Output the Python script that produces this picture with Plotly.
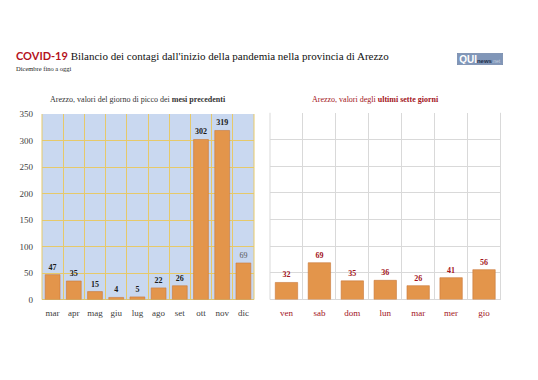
import plotly.graph_objects as go

months = ["mar", "apr", "mag", "giu", "lug", "ago", "set", "ott", "nov", "dic"]
month_peaks = [47, 35, 15, 4, 5, 22, 26, 302, 319, 69]
days = ["ven", "sab", "dom", "lun", "mar", "mer", "gio"]
day_values = [32, 69, 35, 36, 26, 41, 56]
y_ticks = [0, 50, 100, 150, 200, 250, 300, 350]

SERIF = "Liberation Serif"
RED = "#a3141b"
BAR = "#e3954b"
BAR_LINE = "#c9793a"

W, H = 538, 380
def px_x(x): return x / W
def px_y(y): return 1 - y / H

left_text = [f"<b>{v}</b>" for v in month_peaks[:-1]] + [str(month_peaks[-1])]
left_colors = ["#1a1a1a"] * (len(month_peaks) - 1) + ["#555555"]

fig = go.Figure()
fig.add_trace(go.Bar(
    x=months, y=month_peaks, xaxis="x", yaxis="y",
    marker=dict(color=BAR, line=dict(color=BAR_LINE, width=0.6)),
    text=left_text, textposition="outside", cliponaxis=False,
    textfont=dict(family=SERIF, size=8, color=left_colors),
    width=0.7, hoverinfo="skip", showlegend=False,
))
fig.add_trace(go.Bar(
    x=days, y=day_values, xaxis="x2", yaxis="y2",
    marker=dict(color=BAR, line=dict(color=BAR_LINE, width=0.6)),
    text=[f"<b>{v}</b>" for v in day_values], textposition="outside", cliponaxis=False,
    textfont=dict(family=SERIF, size=8, color=RED),
    width=0.68, hoverinfo="skip", showlegend=False,
))

fig.update_layout(
    width=W, height=H,
    margin=dict(l=0, r=0, t=0, b=0),
    paper_bgcolor="white",
    plot_bgcolor="white",
    bargap=0.3,
    xaxis=dict(
        domain=[px_x(42), px_x(254)], anchor="y",
        type="category", tickson="boundaries", tickangle=0,
        showgrid=True, gridcolor="#e6c96a", gridwidth=1,
        ticks="", showline=False, zeroline=False, ticklabelstandoff=6,
        tickfont=dict(family=SERIF, size=9, color="#404040"),
    ),
    yaxis=dict(
        domain=[px_y(302.5), px_y(112)], anchor="x",
        range=[0, 350], tickvals=y_ticks,
        showgrid=True, gridcolor="#e6c96a", gridwidth=1,
        zeroline=True, zerolinecolor="#d9c27a", zerolinewidth=1,
        ticks="", showline=False, ticklabelstandoff=8,
        tickfont=dict(family=SERIF, size=9, color="#404040"),
    ),
    xaxis2=dict(
        domain=[px_x(270), px_x(500.5)], anchor="y2",
        type="category", tickson="boundaries", tickangle=0,
        showgrid=True, gridcolor="#d9d9d9", gridwidth=1,
        ticks="", showline=False, zeroline=False, ticklabelstandoff=6,
        tickfont=dict(family=SERIF, size=9, color=RED),
    ),
    yaxis2=dict(
        domain=[px_y(302.5), px_y(110.7)], anchor="x2",
        range=[0, 350], tickvals=y_ticks, showticklabels=False,
        showgrid=True, gridcolor="#d9d9d9", gridwidth=1,
        zeroline=True, zerolinecolor="#d9d9d9", zerolinewidth=1,
        ticks="", showline=False,
    ),
)

fig.add_shape(type="rect", xref="x domain", yref="y domain", x0=0, x1=1, y0=0, y1=1,
              fillcolor="#c9d8f0", line=dict(width=0), layer="below")
fig.add_shape(type="line", xref="x domain", yref="y domain", x0=0, x1=0, y0=0, y1=1,
              line=dict(color="#e6c96a", width=1), layer="below")
fig.add_shape(type="line", xref="x domain", yref="y domain", x0=1, x1=1, y0=0, y1=1,
              line=dict(color="#e6c96a", width=1), layer="below")
fig.add_shape(type="line", xref="x2 domain", yref="y2 domain", x0=0, x1=0, y0=0, y1=1,
              line=dict(color="#d9d9d9", width=1), layer="below")
fig.add_shape(type="line", xref="x2 domain", yref="y2 domain", x0=1, x1=1, y0=0, y1=1,
              line=dict(color="#d9d9d9", width=1), layer="below")

annotations = [
    dict(x=px_x(14), y=px_y(52), xref="paper", yref="paper", xanchor="left", yanchor="middle",
         text="<span style='font-family:Lato;color:#b5121b'><b>COVID-19</b></span> Bilancio dei contagi dall'inizio della pandemia nella provincia di Arezzo",
         showarrow=False, font=dict(family=SERIF, size=11, color="#111111")),
    dict(x=px_x(14), y=px_y(65), xref="paper", yref="paper", xanchor="left", yanchor="middle",
         text="Dicembre fino a oggi", showarrow=False,
         font=dict(family=SERIF, size=6.5, color="#222222")),
    dict(x=px_x(138), y=px_y(97), xref="paper", yref="paper", xanchor="center", yanchor="middle",
         text="Arezzo, valori del giorno di picco dei <b>mesi precedenti</b>", showarrow=False,
         font=dict(family=SERIF, size=8, color="#333333")),
    dict(x=px_x(375), y=px_y(97), xref="paper", yref="paper", xanchor="center", yanchor="middle",
         text="Arezzo, valori degli <b>ultimi sette giorni</b>", showarrow=False,
         font=dict(family=SERIF, size=8, color=RED)),
    dict(x=px_x(480), y=px_y(55.5), xref="paper", yref="paper", xanchor="center", yanchor="middle",
         text="<b>QUI</b><span style='font-size:6px;color:#1d2d4a'><b>news</b></span><span style='font-size:5px;color:#c8d2e0'>.net</span>",
         showarrow=False, font=dict(family="Liberation Sans", size=10, color="white"),
         bgcolor="#8096b8", bordercolor="#6a7fa3", borderwidth=0.5, borderpad=0.5, width=44, height=10),
]
fig.update_layout(annotations=annotations)

fig.write_html("out.html", config={"displayModeBar": False},
               post_script="document.body.style.margin='0';document.body.style.overflow='hidden';")
